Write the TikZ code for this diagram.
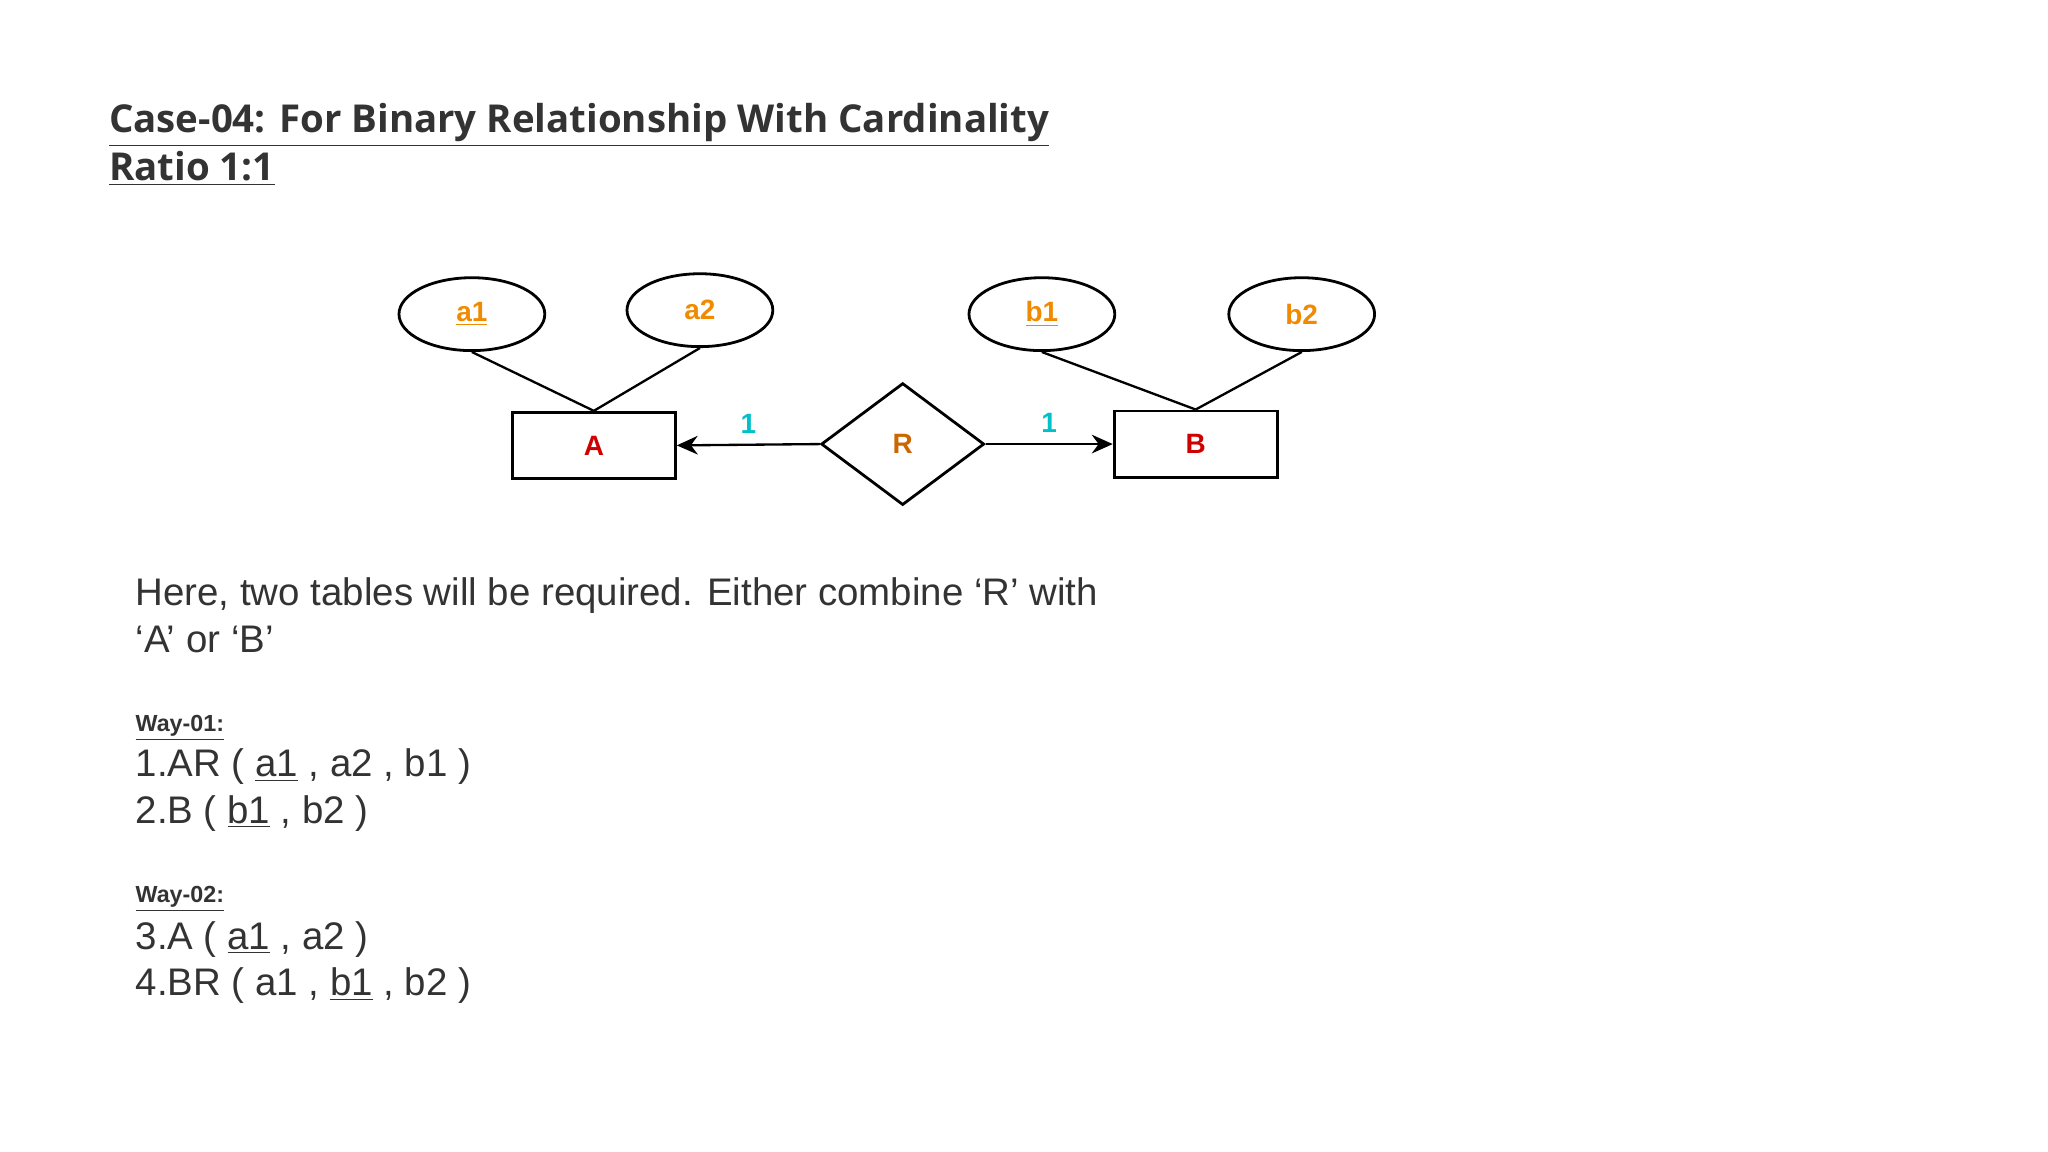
\documentclass[tikz,border=0pt]{standalone}
\usepackage{fontspec}
\setmainfont{Liberation Sans}
\newfontfamily\osans{Open Sans}
\usetikzlibrary{shapes.geometric,arrows.meta}
\definecolor{txt}{HTML}{333333}
\definecolor{lab}{HTML}{F08A00}
\definecolor{ent}{HTML}{D00000}
\definecolor{rel}{HTML}{CC6600}
\definecolor{one}{HTML}{00C0C8}
\begin{document}
\begin{tikzpicture}[x=0.02cm,y=-0.02cm,
  attr/.style={ellipse,draw,line width=1.2pt,minimum width=110*0.02cm,minimum height=55*0.02cm,inner sep=0pt,font=\fontsize{12}{14}\selectfont\bfseries,text=lab},
  ent/.style={rectangle,draw,line width=1.2pt,minimum width=123*0.02cm,minimum height=50*0.02cm,font=\fontsize{12}{14}\selectfont\bfseries,text=ent},
  conn/.style={line width=1pt},
  arr/.style={line width=1pt,-{Stealth[length=9pt,width=8pt]}},
  card/.style={font=\fontsize{12}{14}\selectfont\bfseries,text=one},
  body/.style={anchor=base west,inner sep=0pt,text=txt,font=\fontsize{16.5}{20}\selectfont},
  small/.style={anchor=base west,inner sep=0pt,text=txt,font=\fontsize{10}{12}\selectfont\bfseries},
  title/.style={anchor=base west,inner sep=0pt,text=txt,font=\osans\fontsize{16.5}{20}\selectfont\bfseries}]
\useasboundingbox (0,0) rectangle (1545,869);
\node[title] (t1) at (82,100) {\underline{Case-04: For Binary Relationship With Cardinality}};
\node[title] (t2) at (82,136) {\underline{Ratio 1:1}};
\node[attr] (a1) at (356,237) {\underline{a1}};
\node[attr] (a2) at (528,234) {a2};
\node[attr] (b1) at (786,237) {\underline{b1}};
\node[attr] (b2) at (982,237) {b2};
\node[ent] (A) at (448,336) {A};
\node[ent] (B) at (902,335) {B};
\node[diamond,draw,line width=1.2pt,minimum width=123*0.02cm,minimum height=92*0.02cm,inner sep=0pt,aspect=1.34,font=\fontsize{12}{14}\selectfont\bfseries,text=rel] (R) at (681,335) {R};
\draw[conn] (a1.south) -- (A.north);
\draw[conn] (a2.south) -- (A.north);
\draw[conn] (b1.south) -- (B.north);
\draw[conn] (b2.south) -- (B.north);
\draw[arr] (R.west) -- (A.east) node[card,pos=0.5,above=1pt] (c1) {1};
\draw[arr] (R.east) -- (B.west) node[card,pos=0.5,above=1pt] (c2) {1};
\node[body] (h1) at (102,457) {Here, two tables will be required. Either combine ‘R’ with};
\node[body] (h2) at (102,492) {‘A’ or ‘B’};
\node[small] (w1) at (102,552) {\underline{Way-01:}};
\node[body] (l1) at (102,586) {1.AR ( \underline{a1} , a2 , b1 )};
\node[body] (l2) at (102,621) {2.B ( \underline{b1} , b2 )};
\node[small] (w2) at (102,681) {\underline{Way-02:}};
\node[body] (l3) at (102,716) {3.A ( \underline{a1} , a2 )};
\node[body] (l4) at (102,751) {4.BR ( a1 , \underline{b1} , b2 )};
\end{tikzpicture}
\end{document}
